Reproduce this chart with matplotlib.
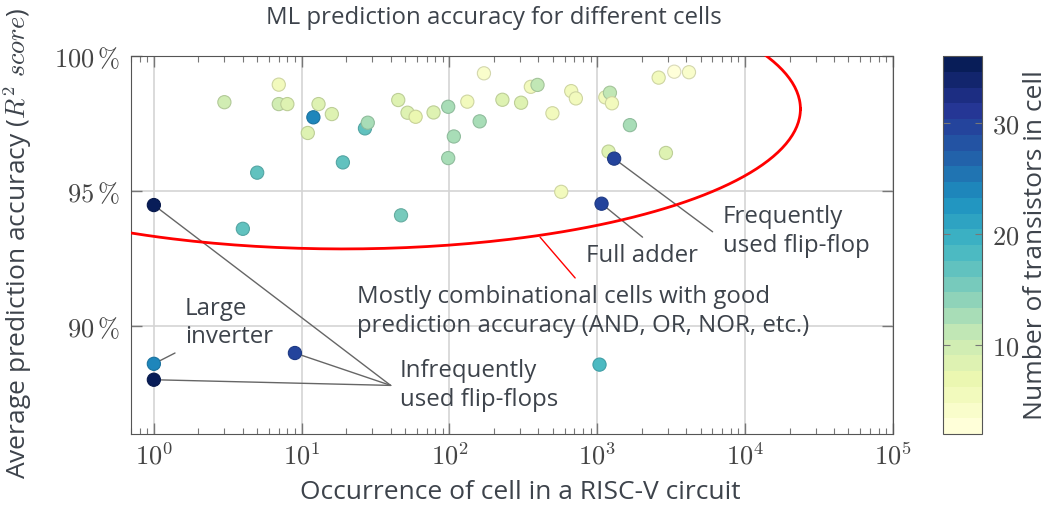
import matplotlib
matplotlib.use("Agg")
import matplotlib.pyplot as plt
import numpy as np
from matplotlib.colors import Normalize
from matplotlib.ticker import FuncFormatter, LogLocator, FixedLocator

plt.rcParams["font.family"] = ["Open Sans", "DejaVu Sans"]
plt.rcParams["mathtext.fontset"] = "cm"

# occurrence of the cell, average R^2 accuracy (%), transistor count
occurrence = [3.0, 7.0, 7.0, 8.0, 13.0, 12.0, 16.0, 11.0, 26.8, 28.0,
              19.0, 5.0, 45.0, 52.0, 59.0, 78.0, 98.0, 107.0, 98.0, 132.0,
              171.0, 160.0, 228.0, 305.0, 355.0, 394.0, 497.0, 666.0, 716.0, 570.0,
              1132.0, 1217.0, 1256.0, 1662.0, 1191.0, 1300.0, 2912.0, 2600.0, 3315.0, 4170.0,
              1068.0, 1.0, 4.0, 47.0, 1.0, 1.0, 9.0, 1035.0]
accuracy = [98.29, 98.94, 98.22, 98.22, 98.22, 97.73, 97.85, 97.15, 97.32, 97.53,
            96.06, 95.68, 98.37, 97.90, 97.75, 97.91, 98.12, 97.02, 96.22, 98.31,
            99.36, 97.58, 98.38, 98.27, 98.86, 98.93, 97.88, 98.70, 98.43, 94.97,
            98.47, 98.64, 98.25, 97.44, 96.46, 96.20, 96.41, 99.20, 99.42, 99.40,
            94.53, 94.48, 93.60, 94.10, 88.60, 88.01, 89.00, 88.57]
transistors = [10, 5, 10, 9, 9, 24, 9, 9, 17, 12,
               17, 17, 8, 8, 7, 8, 13, 12, 12, 6,
               4, 13, 8, 8, 6, 11, 6, 6, 6, 6,
               6, 11, 6, 13, 8, 30, 8, 5, 3, 4,
               30, 35, 17, 15, 24, 35, 29, 18]

# region of "good" cells: ellipse in (log10 occurrence, accuracy)
ellipse_center = (1.28, 98.04)
ellipse_radii = (3.094, 5.185)

text_color = "#3d434b"
cmap = plt.get_cmap("YlGnBu", 24)
norm = Normalize(vmin=2, vmax=36)

fig = plt.figure(figsize=(10.57, 5.06), dpi=100)
ax = fig.add_axes([0.1239, 0.1403, 0.7209, 0.7470])
cax = fig.add_axes([0.8921, 0.1403, 0.0369, 0.7470])

face = cmap(norm(np.array(transistors)))
edge = face.copy()
edge[:, :3] *= 0.85
sc = ax.scatter(occurrence, accuracy, c=transistors, cmap=cmap, norm=norm,
                s=90, edgecolors=edge, linewidths=0.8, zorder=5)

t = np.linspace(0, 2 * np.pi, 400)
ex = 10 ** (ellipse_center[0] + ellipse_radii[0] * np.cos(t))
ey = ellipse_center[1] + ellipse_radii[1] * np.sin(t)
ax.plot(ex, ey, color="#ff0000", lw=2, zorder=4)

ax.set_xscale("log")
ax.set_xlim(0.7, 1e5)
ax.set_ylim(86, 100)
ax.xaxis.set_major_locator(LogLocator(base=10, numticks=10))
ax.xaxis.set_minor_locator(LogLocator(base=10, subs=np.arange(2, 10), numticks=10))
ax.xaxis.set_major_formatter(FuncFormatter(lambda v, p: r"$10^{%d}$" % round(np.log10(v))))
ax.yaxis.set_major_locator(FixedLocator([90, 95, 100]))
ax.yaxis.set_major_formatter(FuncFormatter(lambda v, p: r"$%d\,\%%$" % v))
ax.grid(True, which="major", color="#d4d4d4", lw=1.2, zorder=0)
ax.set_axisbelow(True)
ax.tick_params(which="both", direction="in", top=True, right=True, colors="#777777",
               labelcolor="#444444", labelsize=19)
ax.tick_params(which="major", length=8, width=1)
ax.tick_params(which="minor", length=4, width=0.8)
ax.tick_params(axis="x", pad=6)
ax.tick_params(axis="y", pad=8)
for s in ax.spines.values():
    s.set_color("#555555")

fs = 17.3
ann = dict(arrowstyle="-", color="#666666", lw=1, shrinkA=0, shrinkB=0)
# infrequently used flip-flops
for px, py in [(1.0, 94.48), (1.0, 88.01), (9.0, 89.0)]:
    ax.annotate("", xy=(px, py), xytext=(40, 87.8), arrowprops=ann, zorder=3)
ax.text(46, 87.84, "Infrequently\nused flip-flops", fontsize=fs, color=text_color,
        ha="left", va="center", linespacing=1.25)
# large inverter
ax.annotate("", xy=(1.0, 88.6), xytext=(1.39, 89.0), arrowprops=ann, zorder=3)
ax.text(1.62, 90.15, "Large\ninverter", fontsize=fs, color=text_color,
        ha="left", va="center", linespacing=1.25)
# full adder
ax.annotate("", xy=(1068, 94.53), xytext=(2023, 93.29), arrowprops=ann, zorder=3)
ax.text(2014, 92.63, "Full adder", fontsize=fs, color=text_color, ha="center", va="center")
# frequently used flip-flop
ax.annotate("", xy=(1300, 96.2), xytext=(6026, 93.49), arrowprops=ann, zorder=3)
ax.text(7080, 93.54, "Frequently\nused flip-flop", fontsize=fs, color=text_color,
        ha="left", va="center", linespacing=1.25)
# combinational cells
ax.annotate("", xy=(410, 93.29), xytext=(708, 91.78),
            arrowprops=dict(arrowstyle="-", color="#ff0000", lw=1, shrinkA=0, shrinkB=0), zorder=3)
ax.text(23.7, 90.57, "Mostly combinational cells with good\nprediction accuracy (AND, OR, NOR, etc.)",
        fontsize=fs, color=text_color, ha="left", va="center", linespacing=1.25)

cb = fig.colorbar(sc, cax=cax, ticks=[10, 20, 30])
cb.ax.yaxis.set_major_formatter(FuncFormatter(lambda v, p: r"$%d$" % v))
cb.ax.tick_params(direction="in", left=True, right=True, length=5, colors="#777777",
                  labelcolor="#444444", labelsize=19, pad=7)
cb.outline.set_edgecolor("#555555")

fig.text(494 / 1057, 1 - 18 / 506, "ML prediction accuracy for different cells",
         fontsize=fs, color=text_color, ha="center", va="center")
fig.text(520 / 1057, 1 - 493 / 506, "Occurrence of cell in a RISC-V circuit",
         fontsize=19, color=text_color, ha="center", va="center")
fig.text(18 / 1057, 1 - 243 / 506, r"Average prediction accuracy ($R^2\ score$)",
         fontsize=19, color=text_color, ha="center", va="center", rotation=90)
fig.text(1035 / 1057, 1 - 245 / 506, "Number of transistors in cell",
         fontsize=19, color=text_color, ha="center", va="center", rotation=90)

fig.savefig("out.png", dpi=100)
